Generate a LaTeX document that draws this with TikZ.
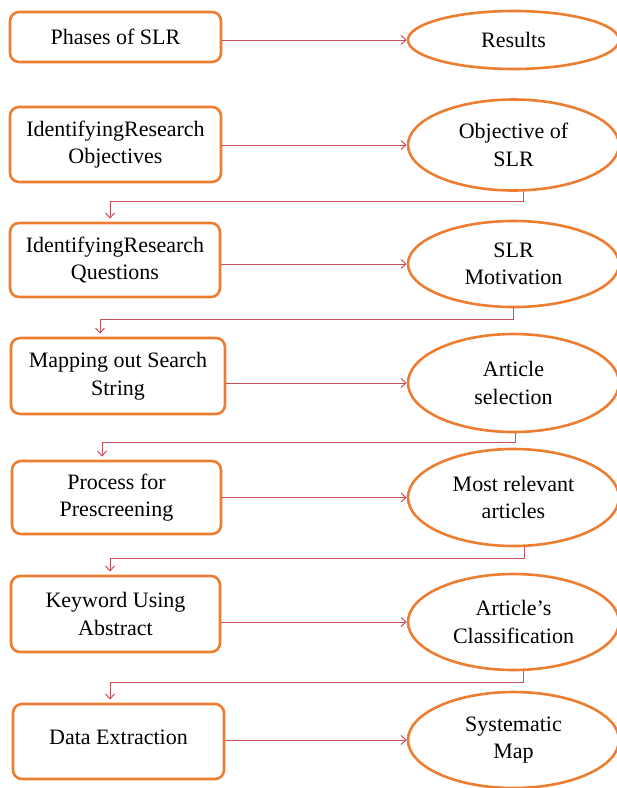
\documentclass[tikz,border=0pt]{standalone}
\usepackage{fontspec}
\setmainfont{Liberation Serif}
\usetikzlibrary{shapes.geometric,arrows.meta}
\definecolor{boxorange}{HTML}{ED7D31}
\definecolor{linkred}{HTML}{C8505A}
\begin{document}
\begin{tikzpicture}[x=1pt,y=-1pt,
  phase/.style={draw=boxorange, line width=2.6pt, rounded corners=9pt,
    align=center, inner sep=0pt, font=\fontsize{22}{27.5}\selectfont},
  outcome/.style={ellipse, draw=boxorange, line width=2.6pt,
    align=center, inner sep=0pt, minimum width=211pt,
    font=\fontsize{22}{27.5}\selectfont},
  link/.style={draw=linkred, line width=1pt,
    -{Straight Barb[length=5pt,width=9pt]}},
]
\useasboundingbox (0,0) rectangle (617,788);

% phases (left column)
\node[phase, minimum width=211pt, minimum height=50pt] (b1) at (115.5,37) {Phases of SLR};
\node[phase, minimum width=211pt, minimum height=75pt] (b2) at (115.5,144.5) {IdentifyingResearch\\Objectives};
\node[phase, minimum width=210pt, minimum height=74pt] (b3) at (115,260) {IdentifyingResearch\\Questions};
\node[phase, minimum width=214pt, minimum height=76pt] (b4) at (118,376) {Mapping out Search\\String};
\node[phase, minimum width=209pt, minimum height=73pt] (b5) at (116.5,497.5) {Process for\\Prescreening};
\node[phase, minimum width=209pt, minimum height=76pt] (b6) at (115.5,614) {Keyword Using\\Abstract};
\node[phase, minimum width=211pt, minimum height=75pt] (b7) at (118.5,741.5) {\raisebox{8pt}{Data Extraction}};

% results (right column)
\node[outcome, minimum height=58pt] (e1) at (513.5,40) {Results};
\node[outcome, minimum height=91pt] (e2) at (513.5,145) {Objective of\\SLR};
\node[outcome, minimum height=86pt] (e3) at (513.5,264) {SLR\\Motivation};
\node[outcome, minimum height=98pt] (e4) at (513.5,383) {Article\\selection};
\node[outcome, minimum height=97pt] (e5) at (513.5,497.5) {Most relevant\\articles};
\node[outcome, minimum height=96pt] (e6) at (513.5,622) {Article’s\\Classification};
\node[outcome, minimum height=96pt] (e7) at (513.5,740) {Systematic\\Map};

% each phase leads to its result
\foreach \i in {1,...,7}
  \draw[link] (b\i.east |- e\i.west) -- (e\i.west);

% each result feeds the next phase
\draw[link] (e2.-78) -- ++(0,10) -| ([xshift=-5pt,yshift=3pt]b3.north);
\draw[link] (e3.south) -- ++(0,11) -| ([xshift=-18pt,yshift=3pt]b4.north);
\draw[link] (e4.-88) -- ++(0,9) -| ([xshift=-14.5pt,yshift=3pt]b5.north);
\draw[link] (e5.-78) -- ++(0,11) -| ([xshift=-5.5pt,yshift=3pt]b6.north);
\draw[link] (e6.-78) -- ++(0,11) -| ([xshift=-8.5pt,yshift=3pt]b7.north);
\end{tikzpicture}
\end{document}
